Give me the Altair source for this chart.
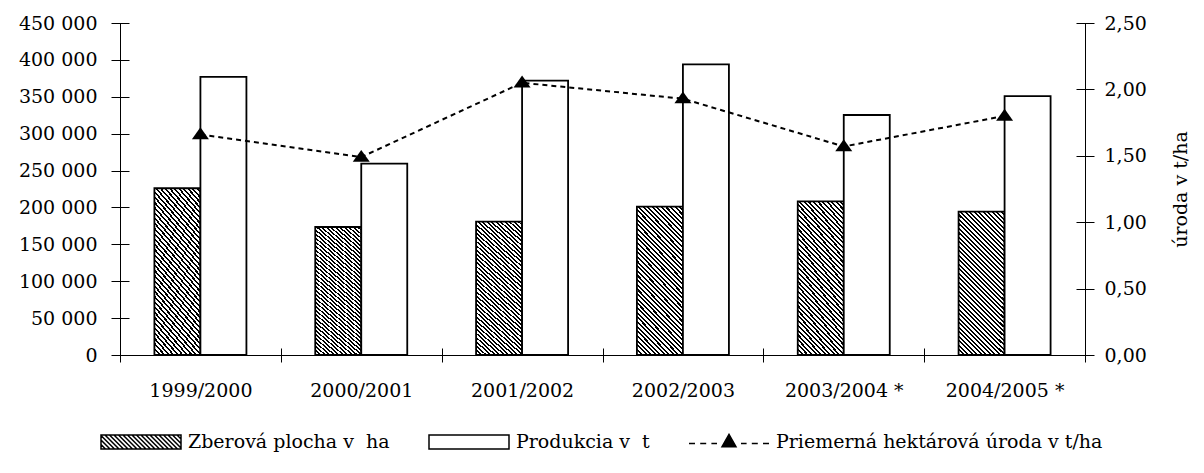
import altair as alt
import pandas as pd

# ---------------- data ----------------
years = ["1999/2000", "2000/2001", "2001/2002", "2002/2003", "2003/2004 *", "2004/2005 *"]
area = [226000, 173500, 180700, 201000, 208300, 194300]        # Zberová plocha v ha
prod = [377000, 259300, 371800, 394000, 325300, 351000]        # Produkcia v t
yld = [1.66, 1.49, 2.05, 1.93, 1.57, 1.80]                     # Priemerná hektárová úroda v t/ha
series_names = ["Zberová plocha v\u00a0 ha", "Produkcia v\u00a0 t"]
line_name = "Priemerná hektárová úroda v t/ha"
left_ticks = [0, 50000, 100000, 150000, 200000, 250000, 300000, 350000, 400000, 450000]
right_ticks = [0, 0.5, 1.0, 1.5, 2.0, 2.5]
right_title = "úroda v t/ha"

FONT = "DejaVu Serif"
FS = 19

bars_df = pd.DataFrame({
    "year": years * 2,
    "series": [series_names[0]] * len(years) + [series_names[1]] * len(years),
    "value": area + prod,
})
line_df = pd.DataFrame({"year": years, "yield": yld})
leg_names = [series_names[0], series_names[1], line_name]
leg_df = pd.DataFrame({"leg": leg_names})

# ---------------- hatch fill (striped linear gradient) ----------------
r = 3.15
s = (1 + r) / (1 + r * r)
N = 42
stops = []
for i in range(N):
    a = round(i / N, 5)
    b = round((i + 0.45) / N, 5)
    c = round((i + 1) / N, 5)
    stops += [alt.GradientStop(offset=a, color="black"),
              alt.GradientStop(offset=b, color="black"),
              alt.GradientStop(offset=b, color="white"),
              alt.GradientStop(offset=c, color="white")]
hatch = alt.Gradient(gradient="linear", stops=stops, x1=0, y1=1,
                     x2=round(s, 5), y2=round(1 - s * r, 5))

# ---------------- legend symbol paths ----------------
hh = 0.175
hatch_path = f"M-1,{-hh}H1V{hh}H-1Z"
step = 0.1125
c = -1 - hh
while c <= 1 + hh:
    xs = max(c - hh, -1.0)
    xe = min(c + hh, 1.0)
    if xe - xs > 0.01:
        hatch_path += f"M{xs:.4f},{xs - c:.4f}L{xe:.4f},{xe - c:.4f}"
    c += step
rect_path = f"M-1,{-hh}H1V{hh}H-1Z"
ly = 0.04
line_path = ""
for (x0, x1) in [(-1.0, -0.85), (-0.72, -0.57), (-0.44, -0.3), (0.3, 0.44), (0.57, 0.72), (0.85, 1.0)]:
    line_path += f"M{x0},{ly}L{x1},{ly}"
line_path += "M-0.175,0.12L0.175,0.12L0,-0.19Z"
tri_path = "M-1,0.55L1,0.55L0,-0.85Z"

# ---------------- layers ----------------
bars = alt.Chart(bars_df).mark_bar(stroke="black", strokeWidth=1.8).encode(
    x=alt.X("year:N", sort=years, scale=alt.Scale(paddingInner=0, paddingOuter=0),
            axis=alt.Axis(orient="bottom", title=None, labels=False, ticks=False, domain=True,
                          domainColor="black", domainWidth=1, grid=False)),
    xOffset=alt.XOffset("series:N", sort=series_names,
                        scale=alt.Scale(domain=series_names, paddingInner=0, paddingOuter=0.748)),
    y=alt.Y("value:Q", scale=alt.Scale(domain=[0, 450000], nice=False),
            axis=alt.Axis(orient="left", title=None, labels=False, ticks=False, domain=True,
                          domainColor="black", domainWidth=1, grid=False)),
    fill=alt.condition(alt.datum.series == series_names[0], alt.value(hatch), alt.value("white")),
)

ax_left = alt.Chart(bars_df).mark_point(opacity=0).encode(
    x=alt.X("year:N", sort=years,
            axis=alt.Axis(orient="bottom", title=None, domain=False, ticks=True, tickBand="extent",
                          tickSize=14, offset=-7, tickColor="black", tickWidth=1, labelAngle=0,
                          labelPadding=19, grid=False)),
    y=alt.Y("value:Q", scale=alt.Scale(domain=[0, 450000], nice=False),
            axis=alt.Axis(orient="left", title=None, domain=False, values=left_ticks,
                          tickSize=18, offset=-9, tickColor="black", tickWidth=1,
                          labelExpr="replace(format(datum.value, ','), ',', ' ')",
                          labelPadding=14, grid=False)),
)

line = alt.Chart(line_df).mark_line(
    color="black", strokeWidth=2, strokeDash=[5, 4], interpolate="linear",
    point=alt.OverlayMarkDef(shape=tri_path, size=289, filled=True, color="black", opacity=1),
).encode(
    x=alt.X("year:N", sort=years, axis=None),
    y=alt.Y("yield:Q", scale=alt.Scale(domain=[0, 2.5], nice=False),
            axis=alt.Axis(orient="right", title=None, labels=False, ticks=False, domain=True,
                          domainColor="black", domainWidth=1, grid=False)),
)

ax_right = alt.Chart(line_df).mark_point(opacity=0).encode(
    x=alt.X("year:N", sort=years, axis=None),
    y=alt.Y("yield:Q", scale=alt.Scale(domain=[0, 2.5], nice=False),
            axis=alt.Axis(orient="right", title=right_title, titleAngle=270, titlePadding=44,
                          domain=False, values=right_ticks, tickSize=18, offset=-9,
                          tickColor="black", tickWidth=1,
                          labelExpr="replace(format(datum.value, '.2f'), '.', ',')",
                          labelPadding=10, grid=False)),
)

leg = alt.Legend(orient="none", legendX=-20, legendY=410, direction="horizontal", columns=3,
                 title=None, symbolSize=6400, symbolStrokeWidth=1.5, symbolStrokeColor="black",
                 symbolOpacity=1, labelOffset=6, columnPadding=38, clipHeight=18,
                 labelLimit=600, labelFont=FONT, labelFontSize=FS, labelColor="black")

legend_layer = alt.Chart(leg_df).mark_point(opacity=0, filled=True, strokeWidth=1.5).encode(
    shape=alt.Shape("leg:N", scale=alt.Scale(domain=leg_names, range=[hatch_path, rect_path, line_path]),
                    legend=leg),
    fill=alt.Fill("leg:N", scale=alt.Scale(domain=leg_names, range=["white", "white", "black"]),
                  legend=leg),
    stroke=alt.Stroke("leg:N", scale=alt.Scale(domain=leg_names, range=["black", "black", "black"]),
                      legend=leg),
)

chart = alt.layer(bars, ax_left, line, ax_right, legend_layer).resolve_scale(
    y="independent"
).resolve_axis(
    x="independent", y="independent"
).properties(
    width=965, height=332,
    autosize=alt.AutoSizeParams(type="none"),
    padding={"left": 112, "top": 15, "right": 111, "bottom": 105},
).configure_view(
    stroke=None
).configure_axis(
    labelFont=FONT, labelFontSize=FS, labelColor="black",
    titleFont=FONT, titleFontSize=FS, titleColor="black", titleFontWeight="normal",
).configure_legend(
    labelFont=FONT, labelFontSize=FS, labelColor="black"
)

chart.save("out.html", embed_options={"renderer": "svg", "actions": False})
